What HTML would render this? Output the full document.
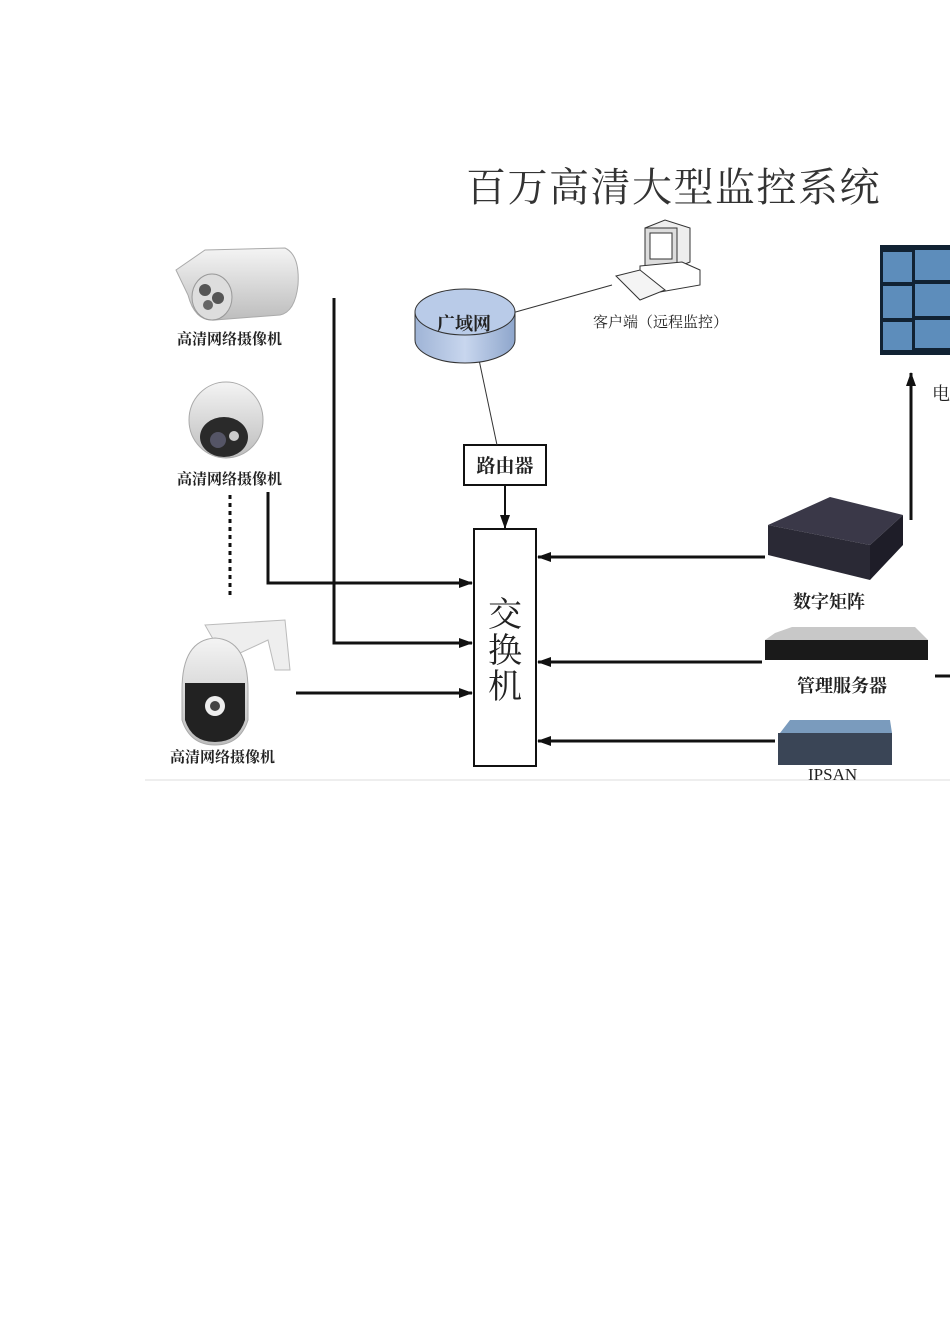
<!DOCTYPE html>
<html><head><meta charset="utf-8"><style>
html,body{margin:0;padding:0;background:#fff;width:950px;height:1344px;overflow:hidden}
svg{display:block}
text{font-family:"Liberation Serif","Noto Serif CJK SC","Noto Sans CJK SC",serif;fill:#222}
</style></head><body>
<svg width="950" height="1344" viewBox="0 0 950 1344" xmlns="http://www.w3.org/2000/svg">
<defs>
<marker id="a" markerWidth="14" markerHeight="10" refX="13" refY="5" orient="auto" markerUnits="userSpaceOnUse"><path d="M0,0 L14,5 L0,10 z" fill="#111"/></marker>
<linearGradient id="cyl" x1="0" x2="1"><stop offset="0" stop-color="#9fb4d6"/><stop offset="0.5" stop-color="#c8d6ee"/><stop offset="1" stop-color="#8ea6cc"/></linearGradient>
<linearGradient id="cam" x1="0" x2="0" y1="0" y2="1"><stop offset="0" stop-color="#f4f4f4"/><stop offset="1" stop-color="#bdbdbd"/></linearGradient>
</defs>
<line x1="145" y1="780" x2="950" y2="780" stroke="#eee" stroke-width="2"/>
<text x="466" y="201" font-size="40" letter-spacing="1.5" style="fill:#333">百万高清大型监控系统</text>

<!-- bullet camera -->
<g>
<path d="M176,270 L205,250 L285,248 Q300,255 298,285 Q295,312 280,315 L215,320 Q195,322 188,295 Z" fill="url(#cam)" stroke="#aaa"/>
<ellipse cx="212" cy="297" rx="20" ry="23" fill="#ddd" stroke="#999"/>
<circle cx="205" cy="290" r="6" fill="#555"/><circle cx="218" cy="298" r="6" fill="#555"/><circle cx="208" cy="305" r="5" fill="#666"/>
</g>
<text x="177" y="344" font-size="15" font-weight="bold">高清网络摄像机</text>

<!-- dome camera -->
<g>
<ellipse cx="226" cy="420" rx="37" ry="38" fill="url(#cam)" stroke="#aaa"/>
<ellipse cx="224" cy="437" rx="24" ry="20" fill="#2a2a2a"/>
<circle cx="218" cy="440" r="8" fill="#556"/><circle cx="234" cy="436" r="5" fill="#ccc"/>
</g>
<text x="177" y="484" font-size="15" font-weight="bold">高清网络摄像机</text>
<line x1="230" y1="495" x2="230" y2="595" stroke="#111" stroke-width="3" stroke-dasharray="4,4"/>

<!-- PTZ -->
<g>
<path d="M205,625 L285,620 L290,670 L275,670 L268,640 L225,660 Z" fill="#eee" stroke="#bbb"/>
<path d="M182,690 Q182,640 215,638 Q248,640 248,690 L248,720 Q240,745 215,745 Q190,745 182,720 Z" fill="url(#cam)" stroke="#aaa"/>
<path d="M185,683 L245,683 L245,720 Q238,742 215,742 Q192,742 185,720 Z" fill="#222"/>
<circle cx="215" cy="706" r="10" fill="#eee"/><circle cx="215" cy="706" r="5" fill="#444"/>
</g>
<text x="170" y="762" font-size="15" font-weight="bold">高清网络摄像机</text>

<!-- connectors left -->
<polyline points="334,298 334,643 472,643" fill="none" stroke="#111" stroke-width="3" marker-end="url(#a)"/>
<polyline points="268,492 268,583 472,583" fill="none" stroke="#111" stroke-width="3" marker-end="url(#a)"/>
<line x1="296" y1="693" x2="472" y2="693" stroke="#111" stroke-width="3" marker-end="url(#a)"/>

<!-- switch -->
<rect x="474" y="529" width="62" height="237" fill="#fff" stroke="#111" stroke-width="2"/>
<text x="505" y="626" font-size="34" text-anchor="middle">交</text>
<text x="505" y="662" font-size="34" text-anchor="middle">换</text>
<text x="505" y="698" font-size="34" text-anchor="middle">机</text>

<!-- router -->
<rect x="464" y="445" width="82" height="40" fill="#fff" stroke="#111" stroke-width="2"/>
<text x="505" y="472" font-size="19" text-anchor="middle" font-weight="bold">路由器</text>
<line x1="505" y1="485" x2="505" y2="528" stroke="#111" stroke-width="2" marker-end="url(#a)"/>

<!-- WAN cylinder -->
<line x1="478" y1="355" x2="497" y2="445" stroke="#333" stroke-width="1"/>
<line x1="512" y1="313" x2="612" y2="285" stroke="#333" stroke-width="1"/>
<path d="M415,312 L415,340 A50,23 0 0 0 515,340 L515,312 Z" fill="url(#cyl)" stroke="#333"/>
<ellipse cx="465" cy="312" rx="50" ry="23" fill="#b9cbe8" stroke="#333"/>
<text x="464" y="330" font-size="18" text-anchor="middle" font-weight="bold">广域网</text>

<!-- PC -->
<g stroke="#333" fill="#fff">
<path d="M645,228 L665,220 L690,228 L690,262 L675,268 L645,262 Z" fill="#eee"/>
<rect x="645" y="228" width="32" height="38" fill="#ddd"/>
<rect x="650" y="233" width="22" height="26" fill="#fff"/>
<path d="M640,266 L682,262 L700,270 L700,285 L660,292 L640,282 Z"/>
<path d="M616,276 L640,270 L665,290 L640,300 Z" fill="#f4f4f4"/>
</g>
<text x="593" y="327" font-size="15">客户端（远程监控）</text>

<!-- monitor wall -->
<rect x="880" y="245" width="70" height="110" fill="#123"/>
<g fill="#5d8dbb"><rect x="883" y="252" width="29" height="30"/><rect x="915" y="250" width="35" height="30"/><rect x="883" y="286" width="29" height="32"/><rect x="915" y="284" width="35" height="32"/><rect x="883" y="322" width="29" height="28"/><rect x="915" y="320" width="35" height="28"/></g>
<text x="932" y="400" font-size="18">电</text>
<line x1="911" y1="520" x2="911" y2="373" stroke="#111" stroke-width="3" marker-end="url(#a)"/>

<!-- matrix -->
<path d="M768,525 L830,497 L903,515 L870,545 Z" fill="#3a3848"/>
<path d="M768,525 L870,545 L870,580 L768,555 Z" fill="#2a2935"/>
<path d="M870,545 L903,515 L903,545 L870,580 Z" fill="#1e1d28"/>
<text x="793" y="608" font-size="18" font-weight="bold">数字矩阵</text>
<line x1="765" y1="557" x2="538" y2="557" stroke="#111" stroke-width="3" marker-end="url(#a)"/>

<!-- server -->
<path d="M775,633 L792,627 L915,627 L928,640 L765,640 Z" fill="#c8c8c8"/>
<rect x="765" y="640" width="163" height="20" fill="#1a1a1a"/>
<text x="797" y="692" font-size="18" font-weight="bold">管理服务器</text>
<line x1="762" y1="662" x2="538" y2="662" stroke="#111" stroke-width="3" marker-end="url(#a)"/>
<line x1="935" y1="676" x2="950" y2="676" stroke="#111" stroke-width="3"/>

<!-- IPSAN -->
<path d="M780,733 L790,720 L890,720 L892,733 Z" fill="#7a9bbd"/>
<rect x="778" y="733" width="114" height="32" fill="#3a4556"/>
<text x="808" y="780" font-size="17">IPSAN</text>
<line x1="775" y1="741" x2="538" y2="741" stroke="#111" stroke-width="3" marker-end="url(#a)"/>
</svg>
</body></html>
